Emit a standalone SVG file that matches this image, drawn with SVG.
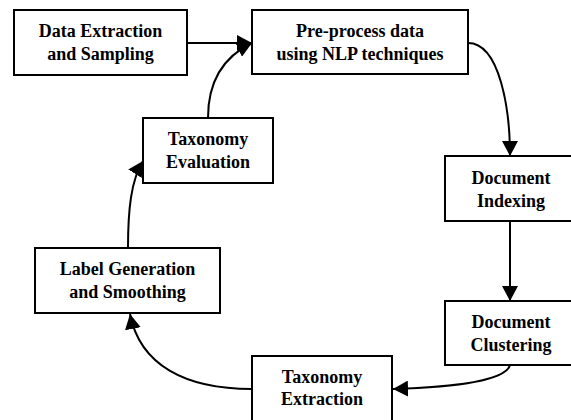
<svg xmlns="http://www.w3.org/2000/svg" width="571" height="420" viewBox="0 0 571 420">
<style>
.box{fill:#fff;stroke:#000;stroke-width:2}
.lbl{font-family:"Liberation Serif","Times New Roman",serif;font-weight:bold;font-size:18px;text-anchor:middle;fill:#000}
.edge{fill:none;stroke:#000;stroke-width:2}
</style>
<defs>
<marker id="arr" markerUnits="userSpaceOnUse" markerWidth="16" markerHeight="16" refX="15" refY="8" orient="auto" viewBox="0 0 16 16">
<path d="M0,0 L15,8 L0,16 z" fill="#000"/>
</marker>
</defs>
<rect width="571" height="420" fill="#fff"/>
<g id="connectors">
<path class="edge" d="M187,43 L252,43" marker-end="url(#arr)"/>
<path class="edge" d="M208,118 C208,80 225,56 252,43" marker-end="url(#arr)"/>
<path class="edge" d="M468,43 C500,43 510,110 510,156" marker-end="url(#arr)"/>
<path class="edge" d="M510,221 L510,301" marker-end="url(#arr)"/>
<path class="edge" d="M510,365 C505,384 430,388 393,389" marker-end="url(#arr)"/>
<path class="edge" d="M252,389 C185,389 140,365 130,314" marker-end="url(#arr)"/>
<path class="edge" d="M128,248 C128,210 131,180 143,161" marker-end="url(#arr)"/>
</g>
<g id="data-extraction">
<rect class="box" x="14" y="10" width="173" height="65"/>
<text class="lbl" x="100.5" y="37">Data Extraction</text>
<text class="lbl" x="100.5" y="60">and Sampling</text>
</g>
<g id="pre-process">
<rect class="box" x="252" y="10" width="216" height="64"/>
<text class="lbl" x="360" y="37">Pre-process data</text>
<text class="lbl" x="360" y="60">using NLP techniques</text>
</g>
<g id="taxonomy-evaluation">
<rect class="box" x="143" y="118" width="130" height="65"/>
<text class="lbl" x="208" y="145">Taxonomy</text>
<text class="lbl" x="208" y="168">Evaluation</text>
</g>
<g id="document-indexing">
<rect class="box" x="445" y="156" width="132" height="65"/>
<text class="lbl" x="511" y="184">Document</text>
<text class="lbl" x="511" y="207">Indexing</text>
</g>
<g id="document-clustering">
<rect class="box" x="445" y="301" width="132" height="64"/>
<text class="lbl" x="511" y="328">Document</text>
<text class="lbl" x="511" y="351">Clustering</text>
</g>
<g id="taxonomy-extraction">
<rect class="box" x="252" y="356" width="140" height="66"/>
<text class="lbl" x="322" y="383">Taxonomy</text>
<text class="lbl" x="322" y="405">Extraction</text>
</g>
<g id="label-generation">
<rect class="box" x="35" y="248" width="185" height="65"/>
<text class="lbl" x="127.5" y="275">Label Generation</text>
<text class="lbl" x="127.5" y="298">and Smoothing</text>
</g>
</svg>
